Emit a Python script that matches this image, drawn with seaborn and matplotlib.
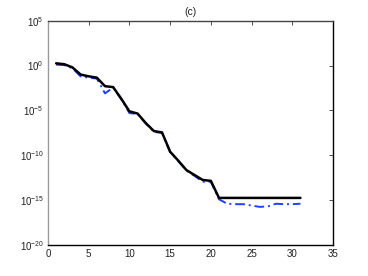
import numpy as np
import pandas as pd
import matplotlib
matplotlib.use("Agg")
import matplotlib.pyplot as plt
import seaborn as sns
from matplotlib.ticker import FixedLocator, FixedFormatter

# iteration index
iters = list(range(1, 32))

# log10 of residual
black_log = [0.25, 0.15, -0.2, -1.0, -1.2, -1.35, -2.3, -2.4, -3.7, -5.1,
             -5.35, -6.4, -7.3, -7.45, -9.6, -10.6, -11.65, -12.2, -12.75, -12.85,
             -14.75, -14.75, -14.75, -14.75, -14.75, -14.75, -14.75, -14.75, -14.75, -14.75,
             -14.75]
blue_log = [0.1, 0.05, -0.3, -1.2, -1.35, -1.45, -3.1, -2.45, -3.75, -5.3,
            -5.4, -6.45, -7.4, -7.5, -9.65, -10.65, -11.7, -12.3, -12.95, -12.95,
            -14.9, -15.4, -15.45, -15.45, -15.6, -15.75, -15.7, -15.4, -15.45, -15.45,
            -15.4]

ytick_exp = [5, 0, -5, -10, -15, -20]
xticks = [0, 5, 10, 15, 20, 25, 30, 35]

df = pd.DataFrame({
    "iter": iters * 2,
    "res": [10.0 ** v for v in black_log] + [10.0 ** v for v in blue_log],
    "method": ["black"] * len(iters) + ["blue"] * len(iters),
})

sns.set_style("white")
plt.rcParams["font.family"] = ["Liberation Sans", "DejaVu Sans"]
plt.rcParams["mathtext.fontset"] = "custom"
plt.rcParams["mathtext.rm"] = "Liberation Sans"
plt.rcParams["mathtext.it"] = "Liberation Sans"

fig = plt.figure(figsize=(3.68, 2.76), dpi=100)
ax = fig.add_axes([0.1304, 0.1123, 0.7745, 0.8127])

sns.lineplot(data=df[df["method"] == "blue"], x="iter", y="res", ax=ax,
             color="#2040ff", lw=1.4, linestyle=(0, (5, 2, 1, 2)), legend=False)
sns.lineplot(data=df[df["method"] == "black"], x="iter", y="res", ax=ax,
             color="black", lw=1.8, legend=False)

ax.set_yscale("log")
ax.set_ylim(1e-20, 1e5)
ax.set_xlim(0, 35)
ax.yaxis.set_major_locator(FixedLocator([10.0 ** e for e in ytick_exp]))
ax.yaxis.set_major_formatter(FixedFormatter([f"$10^{{{e}}}$" for e in ytick_exp]))
ax.yaxis.set_minor_locator(FixedLocator([]))
ax.set_xticks(xticks)
ax.set_xlabel("")
ax.set_ylabel("")
ax.tick_params(direction="in", length=3, width=0.6, labelsize=7, pad=3,
               top=True, right=True, colors="#333333", labelcolor="#222222")
ax.spines["left"].set_color("#999999")
ax.spines["top"].set_color("#444444")
for side in ["right", "bottom"]:
    ax.spines[side].set_color("black")
for s in ax.spines.values():
    s.set_linewidth(1.0)
ax.set_title("(c)", fontsize=7.5, pad=4, color="#222222")

fig.savefig("out.png", dpi=100, facecolor="white")
